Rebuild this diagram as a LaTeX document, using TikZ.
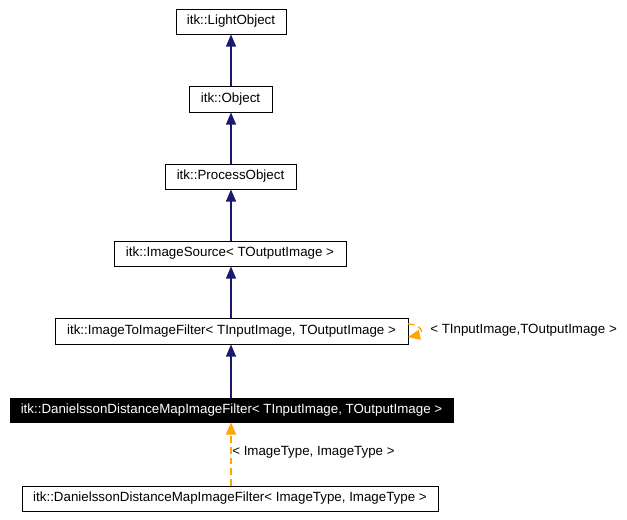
\documentclass[tikz,border=0pt]{standalone}
\usepackage{fontspec}
\setmainfont{Liberation Sans}
\usetikzlibrary{arrows.meta}
\definecolor{navyc}{HTML}{191970}
\definecolor{orangec}{HTML}{FFA500}
\tikzset{
  cls/.style={draw=black, line width=0.75pt, fill=white, inner sep=0pt, font=\fontsize{10pt}{12pt}\selectfont, anchor=center},
  inh/.style={draw=navyc, line width=0.8pt, -{Triangle[length=9pt,width=7.5pt]}, fill=navyc},
  tmpl/.style={draw=orangec, line width=1pt, dash pattern=on 5pt off 3pt, -{Triangle[length=9pt,width=7.5pt,fill=orangec]}},
  lbl/.style={font=\fontsize{10pt}{12pt}\selectfont, inner sep=0pt}
}
\begin{document}
\begin{tikzpicture}[x=0.75pt,y=-0.75pt]
\useasboundingbox (0,0) rectangle (627,519);
\coordinate (axis) at (231,0);
\node[cls, minimum width=110*0.75pt, minimum height=25*0.75pt] (light) at (231,21.5) {itk::LightObject};
\node[cls, minimum width=83*0.75pt, minimum height=26*0.75pt] (obj) at (230.5,99) {itk::Object};
\node[cls, minimum width=131*0.75pt, minimum height=25*0.75pt] (proc) at (230.5,176.5) {itk::ProcessObject};
\node[cls, minimum width=232*0.75pt, minimum height=25*0.75pt] (src) at (230,253.5) {itk::ImageSource< TOutputImage >};
\node[cls, minimum width=353*0.75pt, minimum height=26*0.75pt] (i2i) at (231.5,331) {itk::ImageToImageFilter< TInputImage, TOutputImage >};
\node[cls, fill=black, text=white, minimum width=443*0.75pt, minimum height=24*0.75pt] (dan) at (231.5,410) {itk::DanielssonDistanceMapImageFilter< TInputImage, TOutputImage >};
\node[cls, minimum width=416*0.75pt, minimum height=25*0.75pt] (danit) at (230,498.5) {itk::DanielssonDistanceMapImageFilter< ImageType, ImageType >};

\draw[inh] (obj.north -| axis) -- (light.south -| axis);
\draw[inh] (proc.north -| axis) -- (obj.south -| axis);
\draw[inh] (src.north -| axis) -- (proc.south -| axis);
\draw[inh] (i2i.north -| axis) -- (src.south -| axis);
\draw[inh] (dan.north -| axis) -- (i2i.south -| axis);

\draw[tmpl] (danit.north -| axis) -- (dan.south -| axis);
\node[lbl, anchor=west] (l1) at (232,452) {< ImageType, ImageType >};

\coordinate (sa) at (408,324);
\coordinate (sb) at (408,337);
\draw[tmpl] (sa) .. controls (422,324) and (424,334) .. (sb);
\node[lbl, anchor=west] (l2) at (430,330) {< TInputImage,TOutputImage >};
\end{tikzpicture}
\end{document}
